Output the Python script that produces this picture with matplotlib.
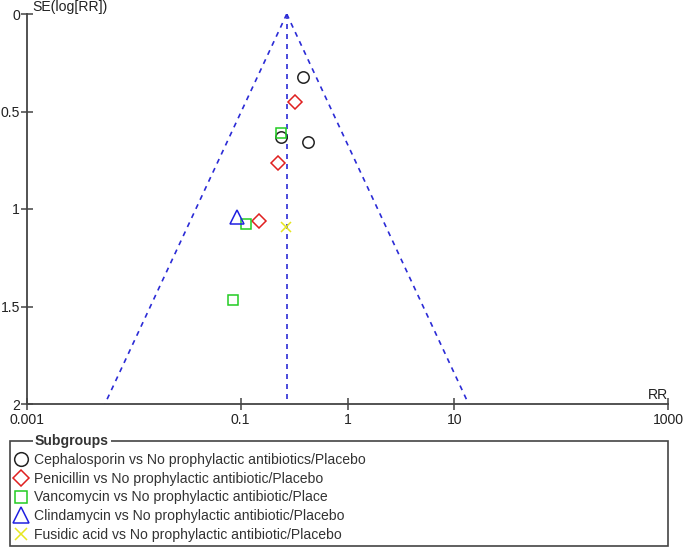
import numpy as np
import matplotlib
matplotlib.use("Agg")
import matplotlib.pyplot as plt
from matplotlib.patches import Rectangle

plt.rcParams['font.family'] = ['Liberation Sans', 'DejaVu Sans']

# pooled estimate (vertical line) and funnel limits (95%)
pooled_rr = 0.27
se_max = 2.0

# studies per subgroup: RR and SE(log RR)
ceph_rr = [0.38, 0.241, 0.43]
ceph_se = [0.322, 0.632, 0.655]
pen_rr = [0.32, 0.224, 0.147]
pen_se = [0.45, 0.763, 1.063]
vanc_rr = [0.241, 0.111, 0.084]
vanc_se = [0.612, 1.078, 1.467]
clin_rr = [0.093]
clin_se = [1.04]
fus_rr = [0.266]
fus_se = [1.09]

labels = ["Cephalosporin vs No prophylactic antibiotics/Placebo",
          "Penicillin vs No prophylactic antibiotic/Placebo",
          "Vancomycin vs No prophylactic antibiotic/Place",
          "Clindamycin vs No prophylactic antibiotic/Placebo",
          "Fusidic acid vs No prophylactic antibiotic/Placebo"]

fs = 10.1

fig = plt.figure(figsize=(6.85, 5.49), dpi=100)
ax = fig.add_axes([27/685, 1-404/549, (668-27)/685, 390/549])

blue = '#2b2bd6'
se_line = np.array([0.0, se_max])
ax.plot([pooled_rr, pooled_rr], se_line, color=blue, ls=(0, (3, 3)), lw=1.2)
ax.plot(pooled_rr*np.exp(-1.96*se_line), se_line, color=blue, ls=(0, (3, 3)), lw=1.2)
ax.plot(pooled_rr*np.exp(1.96*se_line), se_line, color=blue, ls=(0, (3, 3)), lw=1.2)

h1, = ax.plot(ceph_rr, ceph_se, 'o', ms=8.2, mfc='none', mec='#222222', mew=1.1, ls='none')
h2, = ax.plot(pen_rr, pen_se, 'D', ms=7.0, mfc='none', mec='#e02020', mew=1.1, ls='none')
h3, = ax.plot(vanc_rr, vanc_se, 's', ms=7.2, mfc='none', mec='#22cc22', mew=1.1, ls='none')
h4, = ax.plot(clin_rr, clin_se, '^', ms=9.6, mfc='none', mec='#2020e0', mew=1.1, ls='none')
h5, = ax.plot(fus_rr, fus_se, 'x', ms=7.0, mec='#e6e620', mew=1.1, ls='none')

ax.set_xscale('log')
ax.set_xlim(0.001, 1000)
ax.set_ylim(2, 0)
ax.set_xticks([0.001, 0.1, 1, 10, 1000])
ax.set_xticklabels(['0.001', '0.1', '1', '10', '1000'])
ax.xaxis.set_minor_locator(matplotlib.ticker.NullLocator())
ax.set_yticks([0, 0.5, 1, 1.5, 2])
ax.set_yticklabels(['0', '0.5', '1', '1.5', '2'])
for s in ['top', 'right']:
    ax.spines[s].set_visible(False)
for s in ['left', 'bottom']:
    ax.spines[s].set_color('#444444')
    ax.spines[s].set_linewidth(1.3)
ax.tick_params(direction='inout', length=8, width=1.1, color='#444444',
               labelsize=fs, labelcolor='#222222')
ax.tick_params(axis='x', pad=2.5)
ax.tick_params(axis='y', pad=1.2)
ax.text(0.008, 1.0, 'SE(log[RR])', transform=ax.transAxes, fontsize=fs,
        color='#222222', ha='left', va='bottom')
ax.text(0.985, 0.006, 'RR', transform=ax.transAxes, fontsize=fs,
        color='#222222', ha='center', va='bottom')

# legend box
fig.patches.append(Rectangle((10/685, 1-546/549), 658/685, 105/549,
                             transform=fig.transFigure, fill=False,
                             edgecolor='#444444', lw=1.2))
fig.text(35/685, 1-441/549, 'Subgroups', fontsize=fs, fontweight='bold',
         color='#333333', ha='left', va='center',
         bbox=dict(facecolor='white', edgecolor='none', pad=1.5))
fig.legend([h1, h2, h3, h4, h5], labels, loc='upper left',
           bbox_to_anchor=(11/685, 1-449/549), frameon=False,
           fontsize=fs, labelcolor='#333333', handlelength=0.8,
           handletextpad=0.55, labelspacing=0.33, borderpad=0, borderaxespad=0.3,
           markerscale=1.2)

fig.savefig('out.png', dpi=100)
